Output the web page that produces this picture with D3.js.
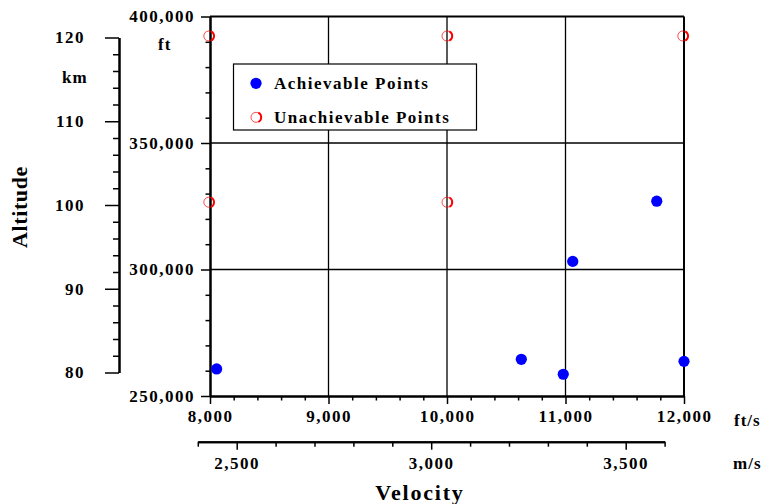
<!DOCTYPE html>
<html><head><meta charset="utf-8">
<script src="https://cdn.jsdelivr.net/npm/d3@7"></script>
<style>
body{margin:0;background:#fff;}
svg text{font-family:"Liberation Serif","Times New Roman",serif;font-weight:bold;fill:#000;}
</style></head>
<body><svg id="c" width="763" height="504"></svg>
<script>
// ---- data ----
const achV   = [8056, 10627, 10981, 11061, 11770, 12000];      // ft/s
const achAlt = [260700, 264500, 258600, 303200, 327000, 263700]; // ft
const unV    = [7990, 10000, 11990, 7990, 10000];
const unAlt  = [392300, 392300, 392300, 326600, 326600];
const ftsTicks = [8000, 9000, 10000, 11000, 12000];
const ftTicks  = [250000, 300000, 350000, 400000];
const kmTicks  = [80, 90, 100, 110, 120];
const msTicks  = [2500, 3000, 3500];
const legendLabels = ["Achievable Points", "Unachievable Points"];

const svg = d3.select("#c");
const L = 210, R = 684, T = 16.5, B = 396;
const x = d3.scaleLinear().domain([8000, 12000]).range([L, R]);
const y = d3.scaleLinear().domain([250000, 400000]).range([B, T]);
const yKm = d3.scaleLinear().domain([80, 120]).range([372.5, 37.5]);
const xMs = d3.scaleLinear().domain([2400, 3600]).range([197.8, 664.6]);
const fmt = d3.format(",");

// grid
const g = svg.append("g");
g.selectAll(".gx").data(ftsTicks.slice(1, -1)).join("line")
  .attr("x1", d => x(d)).attr("x2", d => x(d)).attr("y1", T).attr("y2", B)
  .attr("stroke", "#000").attr("stroke-width", 1.3);
g.selectAll(".gy").data(ftTicks.slice(1, -1)).join("line")
  .attr("x1", L).attr("x2", R).attr("y1", d => y(d)).attr("y2", d => y(d))
  .attr("stroke", "#000").attr("stroke-width", 1.3);

function styleAxis(sel, fs, ls) {
  sel.select(".domain").attr("stroke", "#000").attr("stroke-width", 2);
  sel.selectAll(".tick line").attr("stroke", "#000").attr("stroke-width", 1.5);
  sel.selectAll("text").style("font-size", fs + "px").style("letter-spacing", ls + "px");
}

// bottom ft/s axis : minor + major
const minorFts = d3.range(8000, 12001, 200).filter(v => v % 1000 !== 0);
svg.append("g").attr("transform", `translate(0,${B})`)
  .call(d3.axisBottom(x).tickValues(minorFts).tickSize(4.5).tickFormat("").tickSizeOuter(0))
  .call(s => styleAxis(s, 17, 1.5));
svg.append("g").attr("transform", `translate(0,${B})`)
  .call(d3.axisBottom(x).tickValues(ftsTicks).tickSize(8).tickPadding(6).tickFormat(fmt).tickSizeOuter(0))
  .call(s => styleAxis(s, 17, 1.5));

// left ft axis
const minorFt = d3.range(250000, 400001, 10000).filter(v => v % 50000 !== 0);
svg.append("g").attr("transform", `translate(${L},0)`)
  .call(d3.axisLeft(y).tickValues(minorFt).tickSize(4.5).tickFormat("").tickSizeOuter(0))
  .call(s => styleAxis(s, 17, 1.5));
svg.append("g").attr("transform", `translate(${L},0)`)
  .call(d3.axisLeft(y).tickValues(ftTicks).tickSize(9).tickPadding(6).tickFormat(fmt).tickSizeOuter(0))
  .call(s => styleAxis(s, 17, 1.5));

// top / right border
svg.append("line").attr("x1", L).attr("x2", R).attr("y1", T).attr("y2", T).attr("stroke", "#000").attr("stroke-width", 2);
svg.append("line").attr("x1", R).attr("x2", R).attr("y1", T).attr("y2", B).attr("stroke", "#000").attr("stroke-width", 2);

// km axis
const minorKm = d3.range(80, 121, 2).filter(v => v % 10 !== 0);
svg.append("g").attr("transform", "translate(119,0)")
  .call(d3.axisLeft(yKm).tickValues(minorKm).tickSize(6).tickFormat("").tickSizeOuter(0))
  .call(s => styleAxis(s, 17, 1.5));
svg.append("g").attr("transform", "translate(119,0)")
  .call(d3.axisLeft(yKm).tickValues(kmTicks).tickSize(14).tickPadding(20).tickFormat(d3.format("d")).tickSizeOuter(0))
  .call(s => styleAxis(s, 17, 1.5));

// m/s axis
const minorMs = d3.range(2400, 3601, 100).filter(v => v % 500 !== 0);
svg.append("g").attr("transform", "translate(0,441.7)")
  .call(d3.axisBottom(xMs).tickValues(minorMs).tickSize(5).tickFormat("").tickSizeOuter(0))
  .call(s => styleAxis(s, 17, 1.5));
svg.append("g").attr("transform", "translate(0,441.7)")
  .call(d3.axisBottom(xMs).tickValues(msTicks).tickSize(8).tickPadding(7).tickFormat(fmt).tickSizeOuter(0))
  .call(s => styleAxis(s, 17, 1.5));
svg.selectAll(".domain").attr("stroke-width", 2);

// unit labels
const unit = (t, xx, yy, anchor) => svg.append("text").attr("x", xx).attr("y", yy)
  .attr("text-anchor", anchor || "start").attr("dominant-baseline", "central")
  .style("font-size", "17px").style("letter-spacing", "1px").text(t);
unit("ft", 158, 44);
unit("km", 62, 77);
unit("ft/s", 734, 420);
unit("m/s", 733, 463);

// axis titles
svg.append("text").attr("x", 420).attr("y", 492).attr("text-anchor", "middle")
  .attr("dominant-baseline", "central").style("font-size", "22px").style("letter-spacing", "1.8px").text("Velocity");
svg.append("text").attr("transform", "translate(19,207) rotate(-90)").attr("text-anchor", "middle")
  .attr("dominant-baseline", "central").style("font-size", "22px").style("letter-spacing", "0.6px").text("Altitude");

// hollow marker
function hollow(sel, cx, cy) {
  const gg = sel.append("g").attr("transform", `translate(${cx},${cy})`);
  gg.append("circle").attr("r", 5).attr("fill", "none").attr("stroke", "#ff0000").attr("stroke-width", 1).attr("stroke-opacity", 0.7);
  gg.append("path").attr("d", d3.arc().innerRadius(4.3).outerRadius(6.2).startAngle(Math.PI * 0.15).endAngle(Math.PI * 0.85)())
    .attr("fill", "#ff0000");
}

// points
const pts = svg.append("g");
achV.forEach((v, i) => {
  pts.append("circle").attr("cx", x(v)).attr("cy", y(achAlt[i])).attr("r", 5.6).attr("fill", "#0000ff");
});
unV.forEach((v, i) => hollow(pts, x(v), y(unAlt[i])));

// legend
const lg = svg.append("g");
lg.append("rect").attr("x", 233.5).attr("y", 64).attr("width", 243).attr("height", 66)
  .attr("fill", "#fff").attr("stroke", "#000").attr("stroke-width", 1.2);
lg.append("circle").attr("cx", 256).attr("cy", 83.3).attr("r", 5.6).attr("fill", "#0000ff");
hollow(lg, 256, 117.3);
legendLabels.forEach((t, i) => {
  lg.append("text").attr("x", 274).attr("y", i === 0 ? 83.5 : 117.5).attr("dominant-baseline", "central")
    .style("font-size", "17px").style("letter-spacing", "1.5px").text(t);
});
</script></body></html>
